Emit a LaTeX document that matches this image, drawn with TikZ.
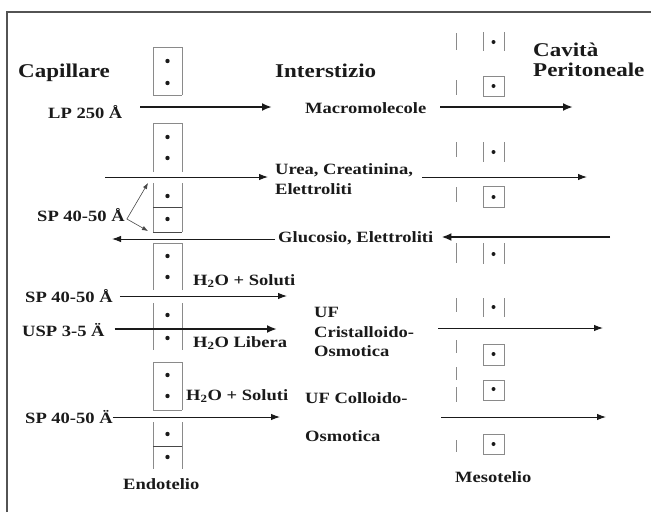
\documentclass[tikz,border=0pt]{standalone}
\usepackage{fontspec}
\setmainfont{Liberation Serif}[FakeStretch=1.18]
\usepackage{tikz}
\usetikzlibrary{arrows.meta, calc}
\definecolor{ink}{HTML}{1A1A1A}
\definecolor{wall}{HTML}{8A8A8A}

\begin{document}
\begin{tikzpicture}[
  x=1pt, y=-1pt,
  head/.style={font=\fontsize{19.5}{20}\selectfont\bfseries, text=ink, inner sep=0pt, anchor=west, align=left},
  lbl/.style={font=\fontsize{15.7}{19.5}\selectfont\bfseries, text=ink, inner sep=0pt, anchor=west, align=left},
  cell/.style={draw=wall, line width=0.9pt},
  sep/.style={draw=ink!80, line width=1pt},
  fat/.style={-{Latex[length=10pt,width=8pt]}, line width=2pt, draw=ink},
  slim/.style={-{Latex[length=9pt,width=6.5pt]}, line width=1pt, draw=ink},
  tiny/.style={-{Latex[length=6pt,width=4.5pt]}, line width=0.6pt, draw=ink!80},
]
\useasboundingbox (0,0) rectangle (651,512);
\draw[draw=ink!75, line width=1.2pt] (7,512) -- (7,12) -- (651,12);

% ---------------- headings ----------------
\node[head] (cap) at (18,73) {Capillare};
\node[head] (inter) at (275,71) {Interstizio};
\node[head] (cav) at (533,60) {Cavità\\Peritoneale};

% ---------------- endothelium (left wall) ----------------
\foreach \t/\b in {47/95, 123/172, 183/232, 243/290, 303/350, 362/410, 422/469}
  \draw[cell] (153,\t) -- (153,\b) (182,\t) -- (182,\b);
\foreach \y in {47, 95, 123, 243, 362, 410}
  \draw[cell] (153,\y) -- (182,\y);
\foreach \y in {207, 232, 446}
  \draw[sep] (153,\y) -- (182,\y);
\foreach \y in {61, 83, 137, 158, 196, 219, 256, 277, 315, 338, 375, 396, 434, 457}
  \fill[ink] (167.5,\y) circle (2.2);

% ---------------- mesothelium (right wall) ----------------
\foreach \t/\b in {33/50, 80/95, 142/157, 187/202, 243/263, 298/312, 340/353, 367/380, 387/402, 440/452}
  \draw[cell] (456,\t) -- (456,\b);
\foreach \t/\b in {32/51, 142/162, 243/264, 298/317}
  \draw[cell] (483,\t) -- (483,\b) (504,\t) -- (504,\b);
\foreach \t/\b in {76/96, 186/207, 344/365, 380/400, 434/454}
  \draw[cell] (483,\t) rectangle (504,\b);
\foreach \y in {42, 86, 152, 197, 254, 307, 354, 389, 444}
  \fill[ink] (493.5,\y) circle (2);

% ---------------- labels ----------------
\node[lbl] (lp) at (48,112) {LP 250 Å};
\node[lbl] (macro) at (305,108) {Macromolecole};
\node[lbl] (urea) at (275,179) {Urea, Creatinina,\\Elettroliti};
\node[lbl] (sp1) at (37,215) {SP 40-50 Å};
\node[lbl] (gluc) at (278,238) {Glucosio, Elettroliti};
\node[lbl] (sol1) at (193,281) {H\textsubscript{2}O + Soluti};
\node[lbl] (sp2) at (25,296) {SP 40-50 Å};
\node[lbl] (usp) at (22,330) {USP 3-5 Ä};
\node[lbl] (lib) at (193,343) {H\textsubscript{2}O Libera};
\node[lbl] (uf1) at (314,332) {UF\\Cristalloido-\\Osmotica};
\node[lbl] (sol2) at (186,396) {H\textsubscript{2}O + Soluti};
\node[lbl] (sp3) at (25,417) {SP 40-50 Ä};
\node[lbl, font=\fontsize{15.7}{38}\selectfont\bfseries] (uf2) at (305,417) {UF Colloido-\\Osmotica};
\node[lbl] (endo) at (123,484) {Endotelio};
\node[lbl] (meso) at (455,477) {Mesotelio};

% ---------------- arrow ends ----------------
\coordinate (lpA) at (140,107);   \coordinate (lpB) at (272,107);
\coordinate (macA) at (440,107);  \coordinate (macB) at (573,107);
\coordinate (ureaA) at (105,177); \coordinate (ureaB) at (268,177);
\coordinate (ureaC) at (422,177); \coordinate (ureaD) at (587,177);
\coordinate (spUp) at (148,183);  \coordinate (spDn) at (148,231);
\coordinate (glL) at (112,239);   \coordinate (glR) at (610,237);
\coordinate (sp2B) at (287,296);
\coordinate (uspB) at (277,329);
\coordinate (sp3B) at (280,417);
\coordinate (ufA) at (438,328);   \coordinate (ufB) at (603,328);
\coordinate (ufC) at (441,417);   \coordinate (ufD) at (606,417);

% ---------------- fluxes ----------------
\draw[fat] (lpA) -- (lpB);
\draw[fat] (macA) -- (macB);
\draw[slim] (ureaA) -- (ureaB);
\draw[slim] (ureaC) -- (ureaD);
\draw[tiny] ($(sp1.east)+(2,4)$) -- (spUp);
\draw[tiny] ($(sp1.east)+(2,4)$) -- (spDn);
\draw[slim] ([xshift=-3pt]gluc.west |- glL) -- (glL);
\draw[fat] (glR) -- ([xshift=8pt]gluc.east |- glR);
\draw[slim] ([xshift=7pt]sp2.east) -- (sp2B);
\draw[fat] ([xshift=10pt]usp.east |- uspB) -- (uspB);
\draw[slim] (sp3.east) -- (sp3B);
\draw[slim] (ufA) -- (ufB);
\draw[slim] (ufC) -- (ufD);

\end{tikzpicture}
\end{document}
